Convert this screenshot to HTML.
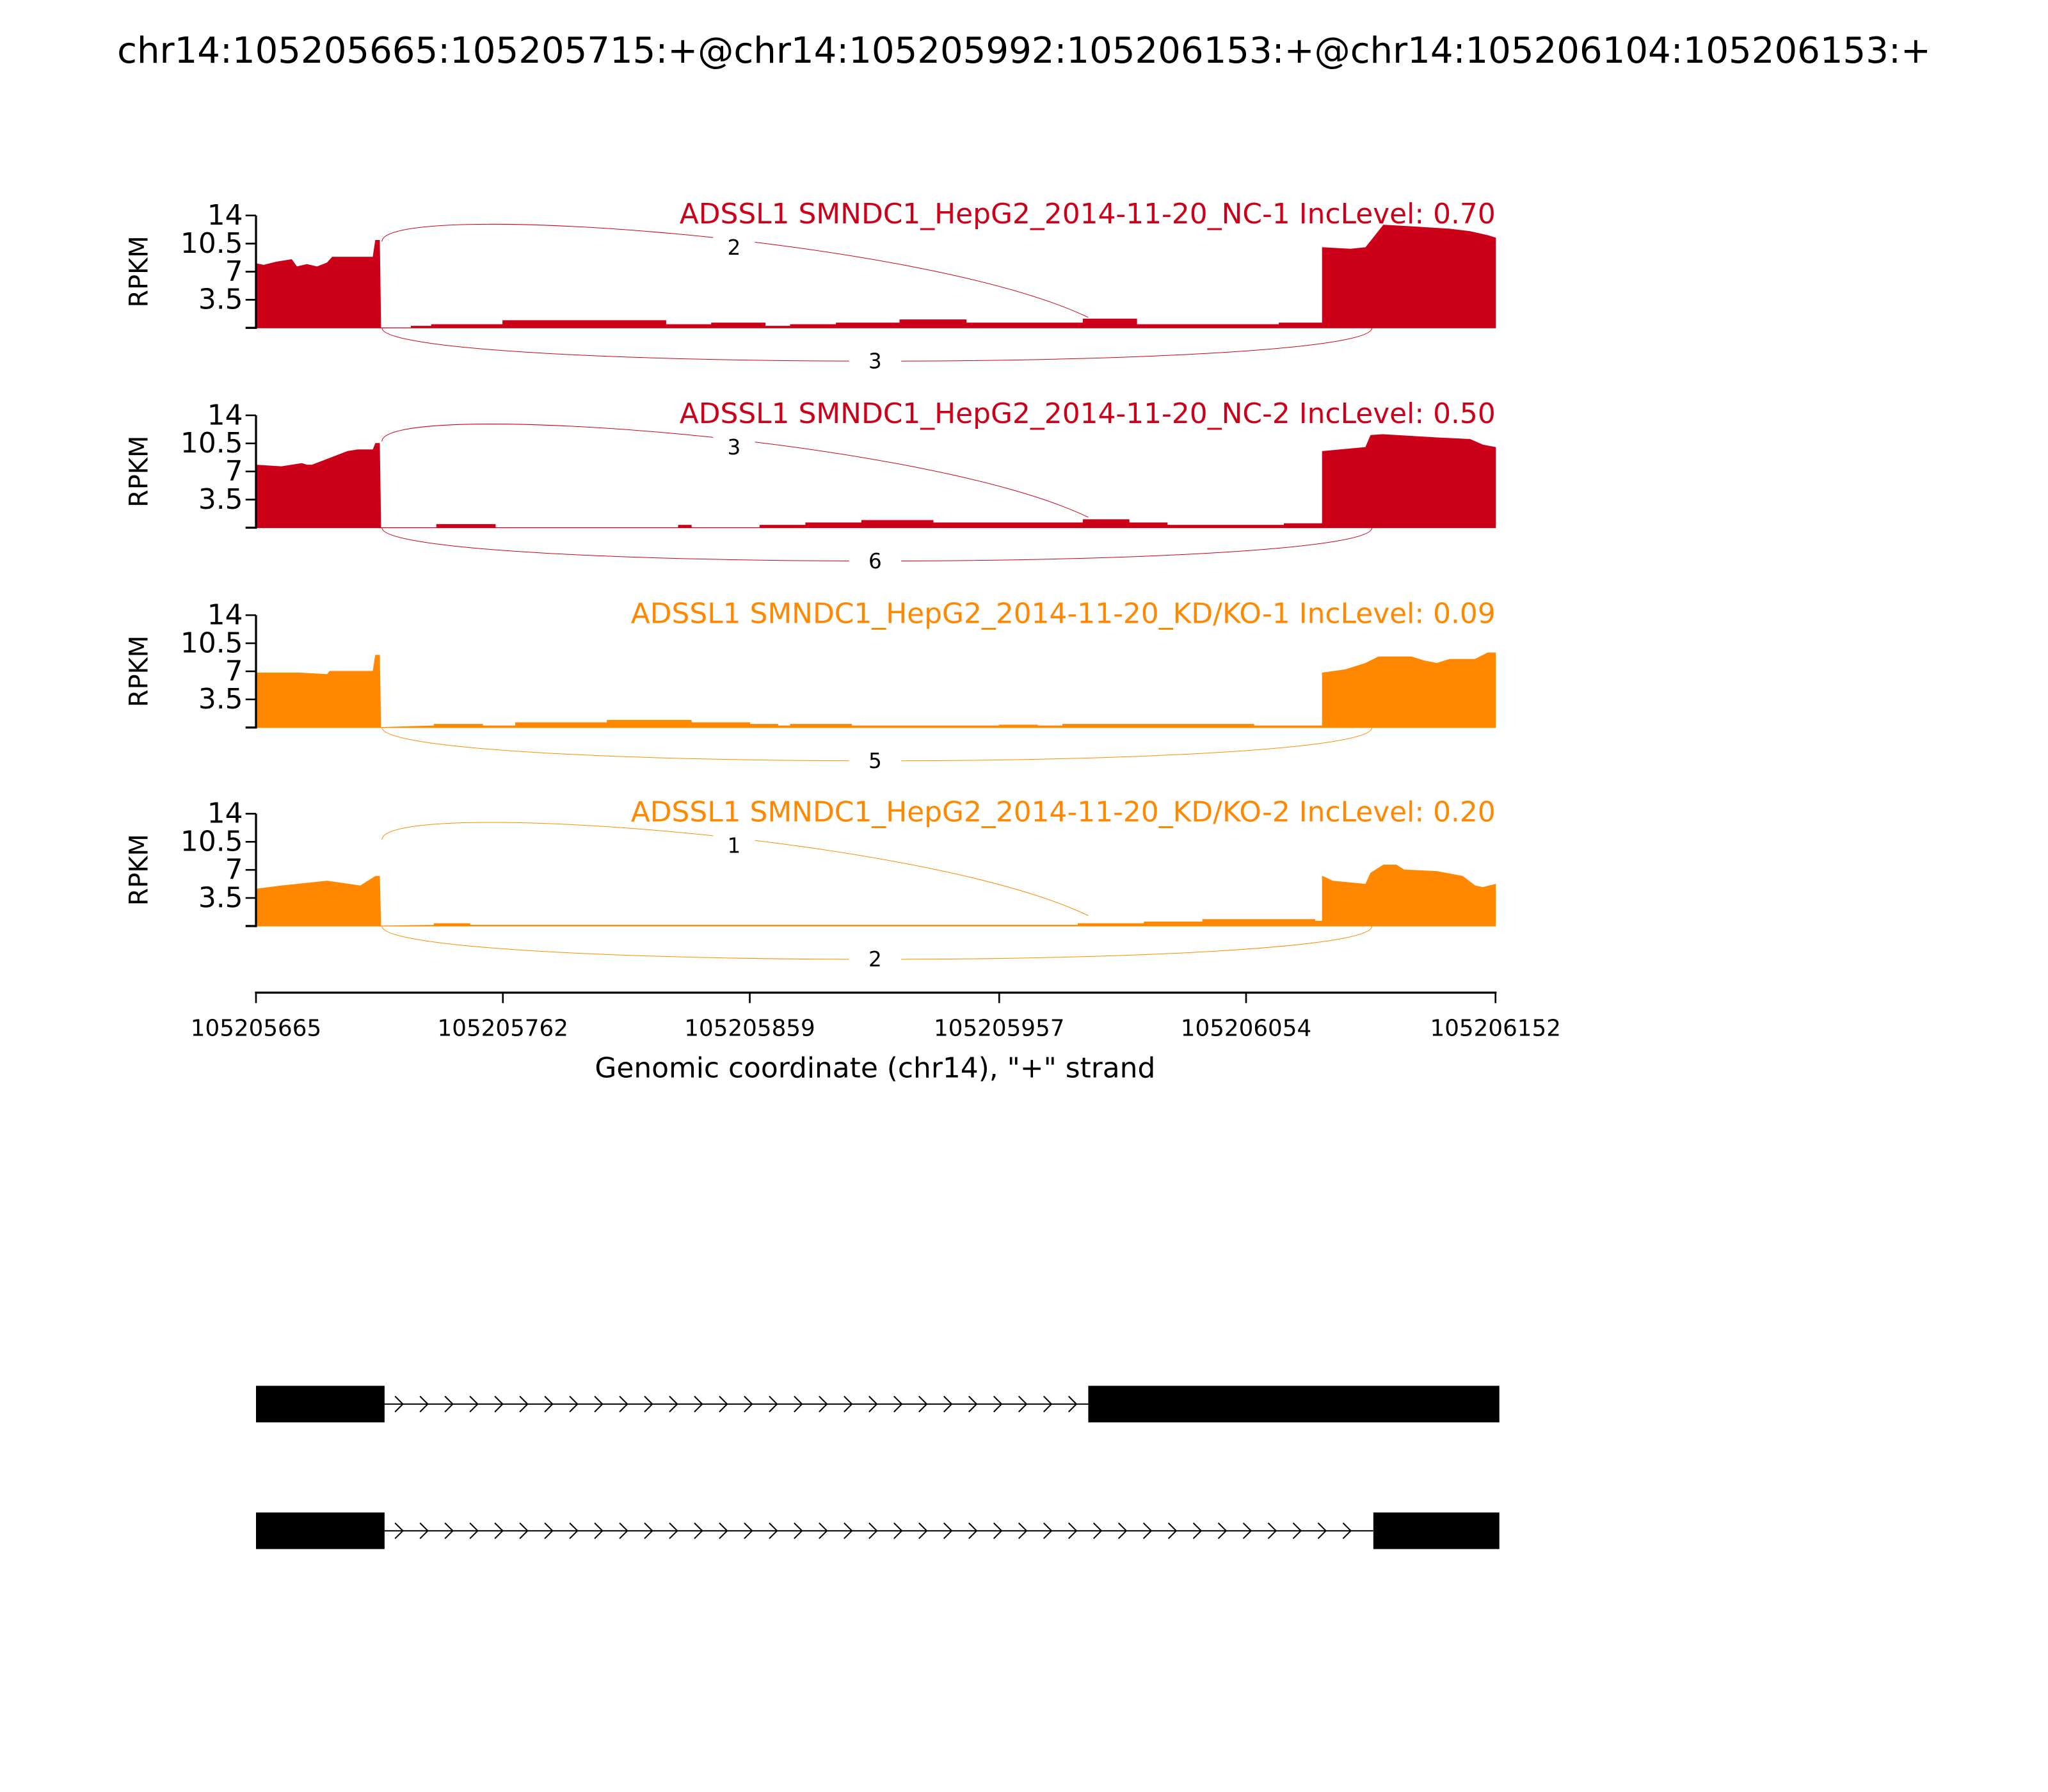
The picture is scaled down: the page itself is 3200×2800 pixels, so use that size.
<!DOCTYPE html>
<html><head><meta charset="utf-8"><title>Sashimi plot</title>
<style>html,body{margin:0;padding:0;background:#fff}svg{display:block}text{font-family:"DejaVu Sans","Liberation Sans",sans-serif}</style>
</head><body>
<svg id="chart" xmlns="http://www.w3.org/2000/svg" width="3200" height="2800" viewBox="0 0 1568 1372">
<rect width="1568" height="1372" fill="#fff"/>
<text x="784" y="48" font-size="27.5" text-anchor="middle">chr14:105205665:105205715:+@chr14:105205992:105206153:+@chr14:105206104:105206153:+</text>
<g id="panels"></g>
<g id="xaxis"></g>
<g id="genes"></g>
</svg>
<script>
// ---- data ----
const startCoord = 105205665, endCoord = 105206152;
const xTickLabels = ["105205665","105205762","105205859","105205957","105206054","105206152"];
const yTicks = [3.5, 7, 10.5, 14];
const yTickLabels = ["3.5","7","10.5","14"];
const sampleTitles = [
 "ADSSL1 SMNDC1_HepG2_2014-11-20_NC-1 IncLevel: 0.70",
 "ADSSL1 SMNDC1_HepG2_2014-11-20_NC-2 IncLevel: 0.50",
 "ADSSL1 SMNDC1_HepG2_2014-11-20_KD/KO-1 IncLevel: 0.09",
 "ADSSL1 SMNDC1_HepG2_2014-11-20_KD/KO-2 IncLevel: 0.20"];
const sampleColors = ["#cc0018","#cc0018","#ff8800","#ff8800"];
// coverage positions (bp offset from start) and RPKM values
const pos1 = [0,3,8,14,16,20,24,28,30,46,47,48.5,49,61,61,69,69,97,97,161,161,179,179,200,200,210,210,228,228,253,253,279,279,325,325,346,346,356,356,402,402,419,419,430,436,438,443,454,464,469,477,484,487,487];
const val1 = [8.0,7.8,8.2,8.5,7.6,7.9,7.6,8.1,8.8,8.8,10.9,10.9,0,0,0.2,0.2,0.4,0.4,0.9,0.9,0.4,0.4,0.6,0.6,0.2,0.2,0.4,0.4,0.6,0.6,1.0,1.0,0.6,0.6,1.1,1.1,0.4,0.4,0.4,0.4,0.6,0.6,10.0,9.8,10.0,10.8,12.8,12.6,12.4,12.3,12.0,11.5,11.2,0];
const pos2 = [0,10,18,20,22,36,40,46,47,48.5,49,71,71,94,94,166,166,171,171,198,198,216,216,238,238,266,266,325,325,343,343,358,358,404,404,419,419,436,438,443,464,477,482,487,487];
const val2 = [7.8,7.6,8.0,7.8,7.8,9.5,9.7,9.7,10.5,10.5,0,0,0.4,0.4,0,0,0.3,0.3,0,0,0.3,0.3,0.6,0.6,0.9,0.9,0.6,0.6,1.0,1.0,0.6,0.6,0.3,0.3,0.5,0.5,9.5,10.0,11.5,11.6,11.2,11.0,10.3,10.0,0];
const pos3 = [0,17,28,29,46,47,48.5,49,70,70,89,89,102,102,138,138,171,171,194,194,205,205,210,210,234,234,292,292,307,307,317,317,392,392,419,419,428,436,441,454,459,464,469,479,484,487,487];
const val3 = [6.8,6.8,6.6,7.0,7.0,9.0,9.0,0,0.2,0.4,0.4,0.2,0.2,0.6,0.6,0.9,0.9,0.6,0.6,0.4,0.4,0.2,0.2,0.4,0.4,0.2,0.2,0.3,0.3,0.2,0.2,0.4,0.4,0.2,0.2,6.8,7.2,8.0,8.8,8.8,8.3,8.0,8.5,8.5,9.3,9.3,0];
const pos4 = [0,10,25,28,41,47,48.5,49,70,70,84,84,323,323,349,349,372,372,416,416,419,419,423,436,438,443,448,451,464,474,479,482,487,487];
const val4 = [4.6,5.0,5.5,5.6,5.0,6.2,6.2,0,0.1,0.3,0.3,0.1,0.1,0.3,0.3,0.5,0.5,0.8,0.8,0.6,0.6,6.2,5.6,5.2,6.6,7.6,7.6,7.0,6.8,6.2,5.0,4.8,5.2,0];
const positions = [pos1,pos2,pos3,pos4];
const values = [val1,val2,val3,val4];
const inclusionCounts = [2,3,null,1];
const skippingCounts = [3,6,5,2];
const exon1End = 105205715, exon2Start = 105205992, exon3Start = 105206104;
const iso1Exons = [[105205665,105205715],[105205992,105206153]];
const iso2Exons = [[105205665,105205715],[105206104,105206153]];

// ---- layout ----
const NS = "http://www.w3.org/2000/svg";
const X0 = 196, X1 = 1145;
const xScale = c => X0 + (c - startCoord) * (X1 - X0) / (endCoord - startCoord);
const xOff = b => xScale(startCoord + b);
const panelBottom = [251, 404, 557, 709];
const yScale = (i, v) => panelBottom[i] - v * 86 / 14;
function mk(tag, attrs, parent) { const e = document.createElementNS(NS, tag); for (const k in attrs) e.setAttribute(k, attrs[k]); parent.appendChild(e); return e; }

const panels = document.getElementById('panels');
for (let i = 0; i < 4; i++) {
  const g = mk('g', {}, panels);
  
  
  const col = sampleColors[i], yb = panelBottom[i];
  let d = 'M' + xOff(positions[i][0]) + ',' + yb;
  for (let k = 0; k < positions[i].length; k++) d += ' L' + xOff(positions[i][k]).toFixed(2) + ',' + yScale(i, values[i][k]).toFixed(2);
  d += ' L' + xOff(positions[i][positions[i].length - 1]) + ',' + yb + ' Z';
  const cov = mk('path', { d: d, fill: col, stroke: col, 'stroke-width': 0.6 }, g);
  
  
  const ax = mk('g', {}, g);
  
  
  mk('line', { x1: X0, x2: X0, y1: yScale(i, 14), y2: yb + 0.8, stroke: '#000', 'stroke-width': 1.6 }, ax);
  mk('line', { x1: X0 - 8, x2: X0, y1: yb, y2: yb, stroke: '#000', 'stroke-width': 1.6 }, ax);
  yTicks.forEach((t, k) => {
    const y = yScale(i, t);
    mk('line', { x1: X0 - 8, x2: X0, y1: y, y2: y, stroke: '#000', 'stroke-width': 1.3 }, ax);
    const tx = mk('text', { x: X0 - 10, y: y + 7, 'font-size': 21.5, 'text-anchor': 'end' }, ax);
    tx.textContent = yTickLabels[k];
    
    
  });
  const yl = mk('text', { x: 0, y: 0, 'font-size': 19.5, 'text-anchor': 'middle', transform: 'translate(113,' + (yb - 43) + ') rotate(-90)' }, g);
  yl.textContent = 'RPKM';
  
  
  const tt = mk('text', { x: X1, y: yb - 80, 'font-size': 21.5, 'text-anchor': 'end', fill: col }, g);
  tt.textContent = sampleTitles[i];
  
  
  const xa = xScale(exon1End) - 1, xb = xScale(exon2Start), xc = xScale(exon3Start) - 1;
  if (inclusionCounts[i] !== null) {
    const ys = yb - 66, ye = yb - 8;
    const arc = mk('path', { d: `M${xa},${ys} C${xa},${yb - 98} ${xb - 130},${yb - 70} ${xb},${ye}`, fill: 'none', stroke: col, 'stroke-width': 0.5 }, g);
    
    
    mk('rect', { x: 546, y: yb - 73, width: 32, height: 20, fill: '#fff' }, g);
    const lb = mk('text', { x: 562, y: yb - 56, 'font-size': 16, 'text-anchor': 'middle' }, g);
    lb.textContent = inclusionCounts[i];
    
    
  }
  const arc2 = mk('path', { d: `M${xa},${yb} C${xa},${yb + 34} ${xc},${yb + 34} ${xc},${yb}`, fill: 'none', stroke: col, 'stroke-width': 0.5 }, g);
  
  
  mk('rect', { x: 650, y: yb + 15, width: 40, height: 20, fill: '#fff' }, g);
  const lb2 = mk('text', { x: 670, y: yb + 31, 'font-size': 16, 'text-anchor': 'middle' }, g);
  lb2.textContent = skippingCounts[i];
  
  
}

const xa = document.getElementById('xaxis');
mk('line', { x1: X0 - 0.8, x2: X1 + 0.8, y1: 760, y2: 760, stroke: '#000', 'stroke-width': 1.6 }, xa);
xTickLabels.forEach(l => {
  const x = xScale(+l);
  mk('line', { x1: x, x2: x, y1: 760, y2: 768, stroke: '#000', 'stroke-width': 1.3 }, xa);
  const t = mk('text', { x: x, y: 793, 'font-size': 17.5, 'text-anchor': 'middle' }, xa);
  t.textContent = l;
  
  
});
const xt = mk('text', { x: 670, y: 825, 'font-size': 21.5, 'text-anchor': 'middle' }, xa);
xt.textContent = 'Genomic coordinate (chr14), "+" strand';



const genes = document.getElementById('genes');
[[iso1Exons, 1075], [iso2Exons, 1172]].forEach(([ex, yc], n) => {
  const g = mk('g', {}, genes);
  
  
  const a = xScale(ex[0][1]) - 1, b = xScale(ex[1][0]);
  mk('line', { x1: a, x2: b, y1: yc, y2: yc, stroke: '#000', 'stroke-width': 1 }, g);
  for (let x = a + 14; x < b - 2; x += 19.1) mk('path', { d: `M${x - 4},${yc - 6} L${x + 2},${yc} L${x - 4},${yc + 6}`, fill: 'none', stroke: '#000', 'stroke-width': 1 }, g);
  ex.forEach(e => {
    const r = mk('rect', { x: xScale(e[0]), y: yc - 14, width: xScale(e[1]) - xScale(e[0]) + 1, height: 28, fill: '#000' }, g);
    
    
  });
});
</script>
</body></html>
